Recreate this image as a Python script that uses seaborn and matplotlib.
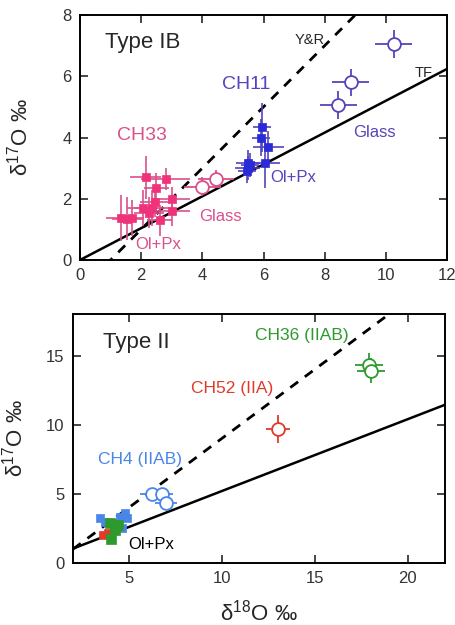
import numpy as np
import pandas as pd
import matplotlib.pyplot as plt
import seaborn as sns

# ---- data: Type IB (top panel) ----
ch33_op_x = [2.15, 2.8, 2.5, 3.0, 2.05, 2.45, 2.35, 2.25, 3.0, 2.6, 1.35, 1.55, 1.7]
ch33_op_y = [2.7, 2.65, 2.35, 2.0, 1.7, 1.9, 1.7, 1.55, 1.6, 1.3, 1.37, 1.35, 1.37]
ch33_op_xerr = [0.5, 0.8, 0.4, 0.6, 0.5, 0.5, 0.6, 0.5, 0.6, 0.4, 0.5, 0.5, 0.4]
ch33_op_yerr = [0.7, 0.35, 0.5, 0.4, 0.6, 0.5, 0.6, 0.5, 0.5, 0.5, 0.75, 0.7, 0.6]

ch33_gl_x = [4.0, 4.45]
ch33_gl_y = [2.4, 2.65]
ch33_gl_xerr = [0.6, 0.6]
ch33_gl_yerr = [0.3, 0.3]

ch11_op_x = [5.94, 5.92, 6.16, 5.5, 5.48, 5.47, 6.05, 5.55]
ch11_op_y = [4.34, 4.0, 3.7, 3.18, 3.0, 2.9, 3.16, 3.1]
ch11_op_xerr = [0.3, 0.3, 0.5, 0.4, 0.4, 0.3, 0.5, 0.3]
ch11_op_yerr = [0.8, 0.6, 0.5, 0.4, 0.4, 0.4, 0.8, 0.4]

ch11_gl_x = [10.25, 8.85, 8.45]
ch11_gl_y = [7.06, 5.8, 5.07]
ch11_gl_xerr = [0.6, 0.6, 0.6]
ch11_gl_yerr = [0.45, 0.45, 0.45]

# ---- data: Type II (bottom panel) ----
ch4_op_x = [3.45, 3.72, 4.53, 4.8, 4.89, 4.26, 4.62]
ch4_op_y = [3.23, 2.99, 3.35, 3.6, 3.23, 2.86, 2.5]
ch36_op_x = [3.99, 4.44, 4.26, 4.02]
ch36_op_y = [2.86, 2.75, 2.38, 1.77]
ch52_op_x = [3.63, 3.9]
ch52_op_y = [2.02, 2.14]

ch4_gl_x = [6.23, 6.77, 7.0]
ch4_gl_y = [4.98, 4.98, 4.32]
ch4_gl_xerr = [0.6, 0.6, 0.6]
ch4_gl_yerr = [0.2, 0.3, 0.2]

ch52_gl_x = [13.0]
ch52_gl_y = [9.7]
ch52_gl_xerr = [0.65]
ch52_gl_yerr = [1.0]

ch36_gl_x = [17.9, 18.0]
ch36_gl_y = [14.3, 13.9]
ch36_gl_xerr = [0.75, 0.75]
ch36_gl_yerr = [0.9, 0.9]

# reference lines
tf_slope = 0.52
yr_offset = 1.0

# Style
sns.set_theme(style="ticks")
plt.rcParams["font.family"] = ["Liberation Sans", "DejaVu Sans"]
plt.rcParams["mathtext.fontset"] = "custom"
plt.rcParams["mathtext.rm"] = "Liberation Sans"
plt.rcParams["mathtext.default"] = "regular"

pink = "#f0327a"
pink_txt = "#d9508a"
blue = "#2a2ad8"
blue_txt = "#5544bb"
lblue = "#4a86e8"
green = "#2e9a2e"
red = "#e03a2a"

fig = plt.figure(figsize=(4.56, 6.25), dpi=100)
ax1 = fig.add_axes([0.1754, 0.584, 0.805, 0.392])
ax2 = fig.add_axes([0.160, 0.0992, 0.816, 0.3984])


def ref_lines(ax, x0, x1):
    xs = np.array([x0, x1])
    sns.lineplot(x=xs, y=tf_slope * xs, color="black", lw=1.8, ax=ax, zorder=1)
    sns.lineplot(x=xs, y=xs - yr_offset, color="black", lw=2, ax=ax,
                 zorder=1, dashes=False, linestyle=(0, (3.5, 3)))


def filled(ax, x, y, color, ecolor=None, xerr=None, yerr=None, ms=30):
    if xerr is not None:
        ax.errorbar(x, y, xerr=xerr, yerr=yerr, fmt="none", ecolor=ecolor,
                    elinewidth=1.2, capsize=0, zorder=2)
    sns.scatterplot(x=x, y=y, marker="s", s=ms, color=color, edgecolor=color,
                    linewidth=0.5, ax=ax, zorder=3)


def hollow(ax, x, y, xerr, yerr, color, ms=85):
    ax.errorbar(x, y, xerr=xerr, yerr=yerr, fmt="none", ecolor=color,
                elinewidth=1.3, capsize=0, zorder=2)
    sns.scatterplot(x=x, y=y, marker="o", s=ms, facecolor="white",
                    edgecolor=color, linewidth=1.3, ax=ax, zorder=3)


# ---- Top: Type IB ----
ref_lines(ax1, 0, 12)
filled(ax1, ch33_op_x, ch33_op_y, pink, pink_txt, ch33_op_xerr, ch33_op_yerr)
hollow(ax1, ch33_gl_x, ch33_gl_y, ch33_gl_xerr, ch33_gl_yerr, pink_txt)
filled(ax1, ch11_op_x, ch11_op_y, blue, blue_txt, ch11_op_xerr, ch11_op_yerr)
hollow(ax1, ch11_gl_x, ch11_gl_y, ch11_gl_xerr, ch11_gl_yerr, blue_txt)

ax1.set_xlim(0, 12)
ax1.set_ylim(0, 8)
ax1.set_xticks([0, 2, 4, 6, 8, 10, 12])
ax1.set_yticks([0, 2, 4, 6, 8])
ax1.set_ylabel("δ$^{17}$O ‰", fontsize=16)
ax1.yaxis.set_label_coords(-0.128, 0.5)

ax1.text(0.82, 7.09, "Type IB", fontsize=16, va="center")
ax1.text(7.03, 7.19, "Y&R", fontsize=10.5, va="center")
ax1.text(10.95, 6.11, "TF", fontsize=10.5, va="center")
ax1.text(4.64, 5.72, "CH11", fontsize=14, color=blue_txt, va="center")
ax1.text(8.93, 4.15, "Glass", fontsize=12, color=blue_txt, va="center")
ax1.text(6.21, 2.68, "Ol+Px", fontsize=12, color=blue_txt, va="center")
ax1.text(1.21, 4.08, "CH33", fontsize=14, color=pink_txt, va="center")
ax1.text(3.89, 1.41, "Glass", fontsize=12, color=pink_txt, va="center")
ax1.text(1.8, 0.49, "Ol+Px", fontsize=12, color=pink_txt, va="center")

# ---- Bottom: Type II ----
ref_lines(ax2, 2, 22)
filled(ax2, ch4_op_x, ch4_op_y, lblue, ms=40)
filled(ax2, ch52_op_x, ch52_op_y, red, ms=40)
filled(ax2, ch36_op_x, ch36_op_y, green, ms=45)
hollow(ax2, ch4_gl_x, ch4_gl_y, ch4_gl_xerr, ch4_gl_yerr, lblue)
hollow(ax2, ch52_gl_x, ch52_gl_y, ch52_gl_xerr, ch52_gl_yerr, red)
hollow(ax2, ch36_gl_x, ch36_gl_y, ch36_gl_xerr, ch36_gl_yerr, green)

ax2.set_xlim(2, 22)
ax2.set_ylim(0, 18)
ax2.set_xticks([5, 10, 15, 20])
ax2.set_yticks([0, 5, 10, 15])
ax2.set_ylabel("δ$^{17}$O ‰", fontsize=16)
ax2.set_xlabel("δ$^{18}$O ‰", fontsize=16)
ax2.yaxis.set_label_coords(-0.122, 0.5)
ax2.xaxis.set_label_coords(0.5, -0.145)

ax2.text(3.61, 15.96, "Type II", fontsize=16, va="center")
ax2.text(11.78, 16.47, "CH36 (IIAB)", fontsize=12.5, color=green, va="center")
ax2.text(8.34, 12.61, "CH52 (IIA)", fontsize=12.5, color=red, va="center")
ax2.text(3.34, 7.51, "CH4 (IIAB)", fontsize=12.5, color=lblue, va="center")
ax2.text(4.96, 1.31, "Ol+Px", fontsize=12, color="black", va="center")

for ax in (ax1, ax2):
    ax.tick_params(direction="in", top=True, right=True, length=6, width=1.2,
                   labelsize=12, labelcolor="#333333", pad=6)
    for sp in ax.spines.values():
        sp.set_visible(True)
        sp.set_linewidth(1.4)
        sp.set_color("black")
    ax.grid(False)

plt.savefig("out.png", dpi=100)
